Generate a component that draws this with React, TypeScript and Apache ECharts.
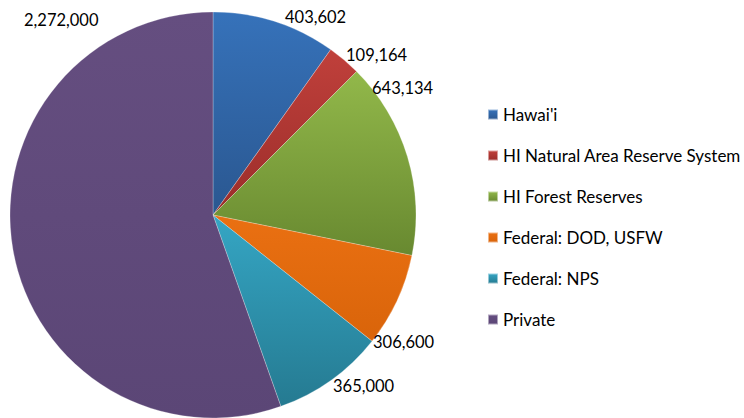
import React, { useEffect, useRef } from "react";
import * as echarts from "echarts";

const categories = [
  "Hawai'i",
  "HI Natural Area Reserve System",
  "HI Forest Reserves",
  "Federal: DOD, USFW",
  "Federal: NPS",
  "Private",
];
const acres = [403602, 109164, 643134, 306600, 365000, 2272000];
const topColors = ["#3672BA", "#C0403B", "#92B84A", "#EA7012", "#35A6C4", "#654E80"];
const bottomColors = ["#2A5790", "#9B2D2A", "#688930", "#D9640A", "#257A91", "#5B4676"];

const FONT = "Lato, 'Open Sans', sans-serif";

// manual label placement (as dragged in the original chart); null = default outside position
const labelSpots: ([number, number] | null)[] = [
  [285, 17],
  [346, 55],
  [372, 88],
  [373, 342],
  [333, 386],
  [24, 20],
];

function fmt(v: number): string {
  return v.toLocaleString("en-US");
}

export default function App() {
  const ref = useRef<HTMLDivElement>(null);
  useEffect(() => {
    if (!ref.current) return;
    const chart = echarts.init(ref.current, undefined, { renderer: "svg" });
    const data = categories.map((name, i) => ({
      name,
      value: acres[i],
      itemStyle: {
        color: new echarts.graphic.LinearGradient(0, 0, 0, 1, [
          { offset: 0, color: topColors[i] },
          { offset: 1, color: bottomColors[i] },
        ]),
      },
    }));
    chart.setOption({
      animation: false,
      backgroundColor: "#ffffff",
      legend: {
        orient: "vertical",
        left: 482,
        top: 101,
        itemWidth: 10,
        itemHeight: 10,
        itemGap: 24,
        icon: "rect",
        textStyle: { fontFamily: FONT, fontSize: 17, color: "#000" },
        data: categories,
      },
      series: [
        {
          type: "pie",
          center: [213, 215],
          radius: 203,
          startAngle: 90,
          clockwise: true,
          avoidLabelOverlap: false,
          data,
          itemStyle: {
            borderColor: "rgba(255,255,255,0.5)",
            borderWidth: 0.5,
          },
          label: {
            show: true,
            position: "outside",
            formatter: (p: any) => fmt(p.value),
            fontFamily: FONT,
            fontSize: 16.5,
            color: "#000",
          },
          labelLine: { show: false, length: 4, length2: 0 },
          labelLayout: (p: any) => {
            const s = labelSpots[p.dataIndex];
            if (!s) return {};
            return { x: s[0], y: s[1], align: "left", verticalAlign: "middle" };
          },
        },
      ],
    });
    return () => chart.dispose();
  }, []);
  return (
    <div
      ref={ref}
      style={{ position: "fixed", left: 0, top: 0, width: 744, height: 418 }}
    />
  );
}
